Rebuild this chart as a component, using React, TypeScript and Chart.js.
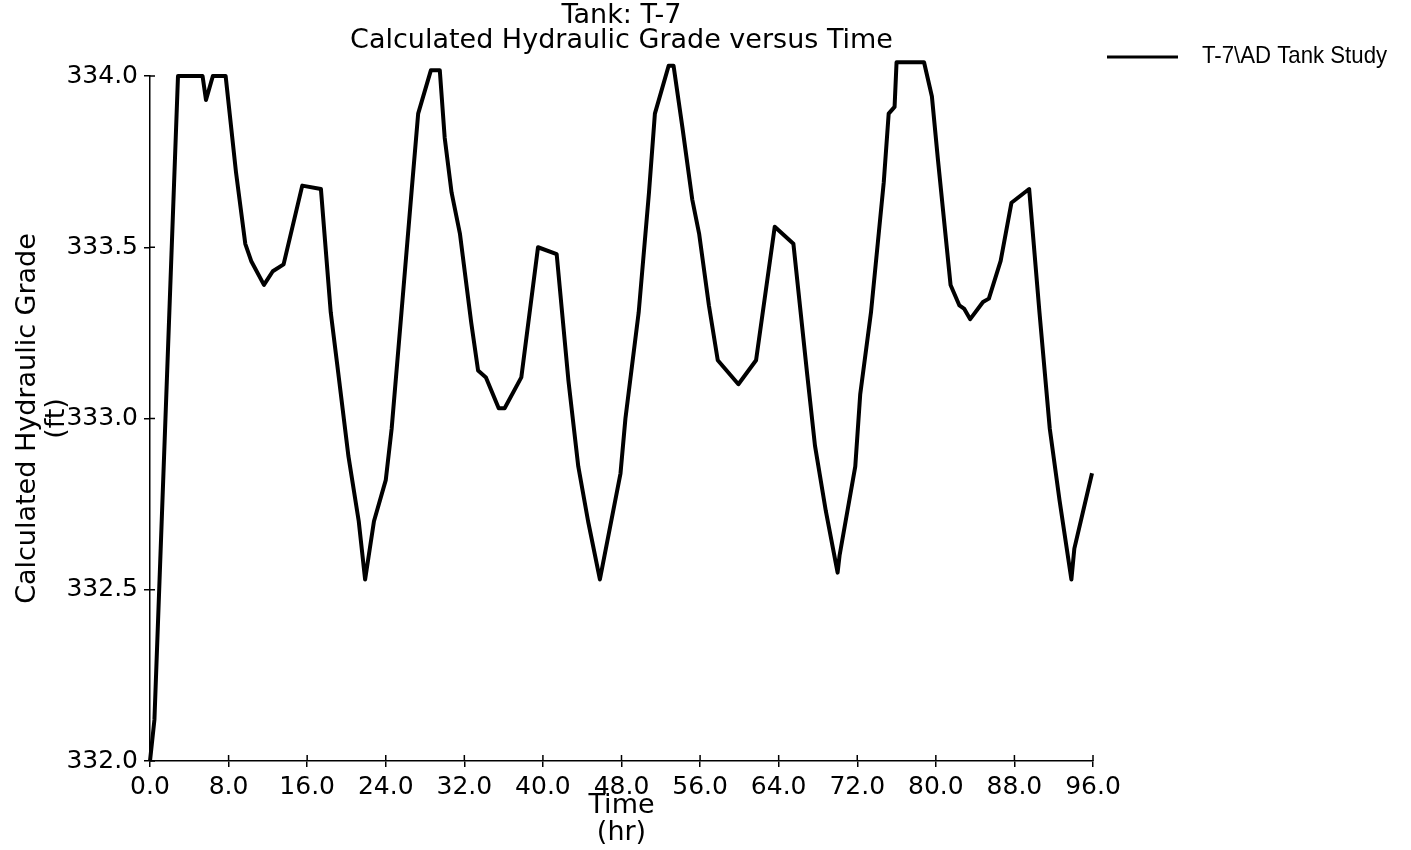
import React, { useEffect, useRef } from 'react';
import { Chart, registerables } from 'chart.js';

Chart.register(...registerables);

// Time (hr) of each vertex of the curve
const timeHr = [
  0, 0.45, 2.85, 5.35, 5.7, 6.4, 7.7, 8.75, 9.7, 10.3, 11.6, 12.5, 13.6, 15.5, 17.4,
  18.4, 19.05, 20.2, 21.25, 21.9, 22.8, 24.0, 24.6, 25.6, 26.65, 27.3, 28.6, 29.5, 30.0,
  30.7, 31.55, 32.7, 33.4, 34.2, 35.5, 36.1, 37.8, 39.5, 41.4, 42.6, 43.6, 44.6, 45.8,
  47.9, 48.4, 49.75, 50.8, 51.4, 52.8, 53.3, 54.2, 55.2, 55.9, 56.9, 57.8, 59.9, 61.7,
  63.6, 65.5, 66.9, 67.7, 68.8, 70.0, 70.2, 71.8, 72.3, 73.4, 74.7, 75.2, 75.8, 76.0,
  78.8, 79.6, 80.2, 81.5, 82.4, 82.9, 83.5, 84.8, 85.4, 86.6, 87.7, 89.5, 90.55, 91.6,
  92.6, 93.8, 94.1, 95.9,
];

// Calculated hydraulic grade (ft) at each vertex
const gradeFt = [
  332.0, 332.12, 334.0, 334.0, 333.93, 334.0, 334.0, 333.72, 333.51, 333.46, 333.39, 333.43, 333.45, 333.68, 333.67,
  333.31, 333.16, 332.89, 332.7, 332.53, 332.7, 332.82, 332.97, 333.31, 333.67, 333.89, 334.017, 334.017, 333.82,
  333.66, 333.54, 333.28, 333.14, 333.12, 333.03, 333.03, 333.12, 333.5, 333.48, 333.11, 332.86, 332.7, 332.53,
  332.84, 333.0, 333.31, 333.66, 333.89, 334.03, 334.03, 333.85, 333.64, 333.54, 333.33, 333.17, 333.1, 333.17,
  333.56, 333.51, 333.13, 332.92, 332.73, 332.55, 332.6, 332.86, 333.07, 333.31, 333.69, 333.89, 333.91, 334.04,
  334.04, 333.94, 333.76, 333.39, 333.33, 333.32, 333.29, 333.34, 333.35, 333.46, 333.63, 333.67, 333.31, 332.97,
  332.76, 332.53, 332.62, 332.84,
];

const xTickValues = [0, 8, 16, 24, 32, 40, 48, 56, 64, 72, 80, 88, 96];
const yTickValues = [332.0, 332.5, 333.0, 333.5, 334.0];
const titleLines = ['Tank: T-7', 'Calculated Hydraulic Grade versus Time'];
const yTitleLines = ['Calculated Hydraulic Grade', '(ft)'];
const xTitleLines = ['Time', '(hr)'];
const seriesLabel = 'T-7\\AD Tank Study';

export default function App() {
  const ref = useRef<HTMLCanvasElement>(null);

  useEffect(() => {
    document.body.style.margin = '0';
    const canvas = ref.current;
    if (!canvas) return;

    const innerTicks = {
      id: 'innerTicks',
      afterDraw(chart: any) {
        const { ctx, chartArea, scales } = chart;
        ctx.save();
        ctx.strokeStyle = '#000';
        ctx.lineWidth = 1.5;
        ctx.beginPath();
        xTickValues.forEach((v) => {
          const px = scales.x.getPixelForValue(v);
          ctx.moveTo(px, chartArea.bottom);
          ctx.lineTo(px, chartArea.bottom - 6);
        });
        yTickValues.forEach((v) => {
          const py = scales.y.getPixelForValue(v);
          ctx.moveTo(chartArea.left, py);
          ctx.lineTo(chartArea.left + 5, py);
        });
        ctx.stroke();
        ctx.restore();
      },
    };

    const customLegend = {
      id: 'customLegend',
      afterDraw(chart: any) {
        const { ctx, chartArea } = chart;
        const x0 = chartArea.right + 14;
        const y0 = 57;
        ctx.save();
        ctx.strokeStyle = '#000';
        ctx.lineWidth = 3;
        ctx.beginPath();
        ctx.moveTo(x0, y0);
        ctx.lineTo(x0 + 71, y0);
        ctx.stroke();
        ctx.fillStyle = '#000';
        ctx.font = '24px "Liberation Sans", Arial, sans-serif';
        ctx.textBaseline = 'middle';
        ctx.textAlign = 'left';
        ctx.translate(x0 + 95, y0 - 1);
        ctx.scale(0.925, 1);
        ctx.fillText(seriesLabel, 0, 0);
        ctx.restore();
      },
    };

    const chart = new Chart(canvas, {
      type: 'line',
      data: {
        datasets: [
          {
            label: seriesLabel,
            data: timeHr.map((t, i) => ({ x: t, y: gradeFt[i] })),
            borderColor: '#000',
            backgroundColor: '#000',
            borderWidth: 4,
            pointRadius: 0,
            tension: 0,
            fill: false,
            clip: false,
            borderJoinStyle: 'round',
          } as any,
        ],
      },
      options: {
        animation: false,
        responsive: false,
        maintainAspectRatio: false,
        layout: { padding: { left: 0, right: 318, top: 0, bottom: 0 } },
        plugins: {
          legend: { display: false },
          tooltip: { enabled: false },
          title: {
            display: true,
            text: titleLines,
            fullSize: false,
            color: '#000',
            font: { family: 'DejaVu Sans', size: 27, weight: 'normal', lineHeight: '25px' } as any,
            padding: { top: 3, bottom: 23 },
          },
        },
        scales: {
          x: {
            type: 'linear',
            min: 0,
            max: 96,
            afterBuildTicks: (s: any) => {
              s.ticks = xTickValues.map((v) => ({ value: v }));
            },
            afterFit: (s: any) => {
              s.height = 89;
            },
            ticks: {
              callback: (v: any) => Number(v).toFixed(1),
              color: '#000',
              font: { family: 'DejaVu Sans', size: 25 },
              padding: 5,
              maxRotation: 0,
              autoSkip: false,
            },
            grid: { drawOnChartArea: false, tickLength: 6, color: '#000', lineWidth: 1.5 },
            border: { color: '#000', width: 1.5 },
            title: {
              display: true,
              text: xTitleLines,
              color: '#000',
              font: { family: 'DejaVu Sans', size: 27, lineHeight: '27px' } as any,
              padding: { top: 0, bottom: 4 },
            },
          },
          y: {
            type: 'linear',
            min: 332,
            max: 334,
            afterBuildTicks: (s: any) => {
              s.ticks = yTickValues.map((v) => ({ value: v }));
            },
            afterFit: (s: any) => {
              s.width = 150;
            },
            ticks: {
              callback: (v: any) => Number(v).toFixed(1),
              color: '#000',
              font: { family: 'DejaVu Sans', size: 25 },
              padding: 6,
              autoSkip: false,
            },
            grid: { drawOnChartArea: false, tickLength: 6, color: '#000', lineWidth: 1.5 },
            border: { color: '#000', width: 1.5 },
            title: {
              display: true,
              text: yTitleLines,
              color: '#000',
              font: { family: 'DejaVu Sans', size: 27, lineHeight: '29px' } as any,
              padding: { top: 13, bottom: 0 },
            },
          },
        },
      },
      plugins: [innerTicks, customLegend],
    });

    return () => chart.destroy();
  }, []);

  return (
    <div style={{ width: 1411, height: 850, background: '#fff' }}>
      <canvas ref={ref} width={1411} height={850} style={{ display: 'block' }} />
    </div>
  );
}
